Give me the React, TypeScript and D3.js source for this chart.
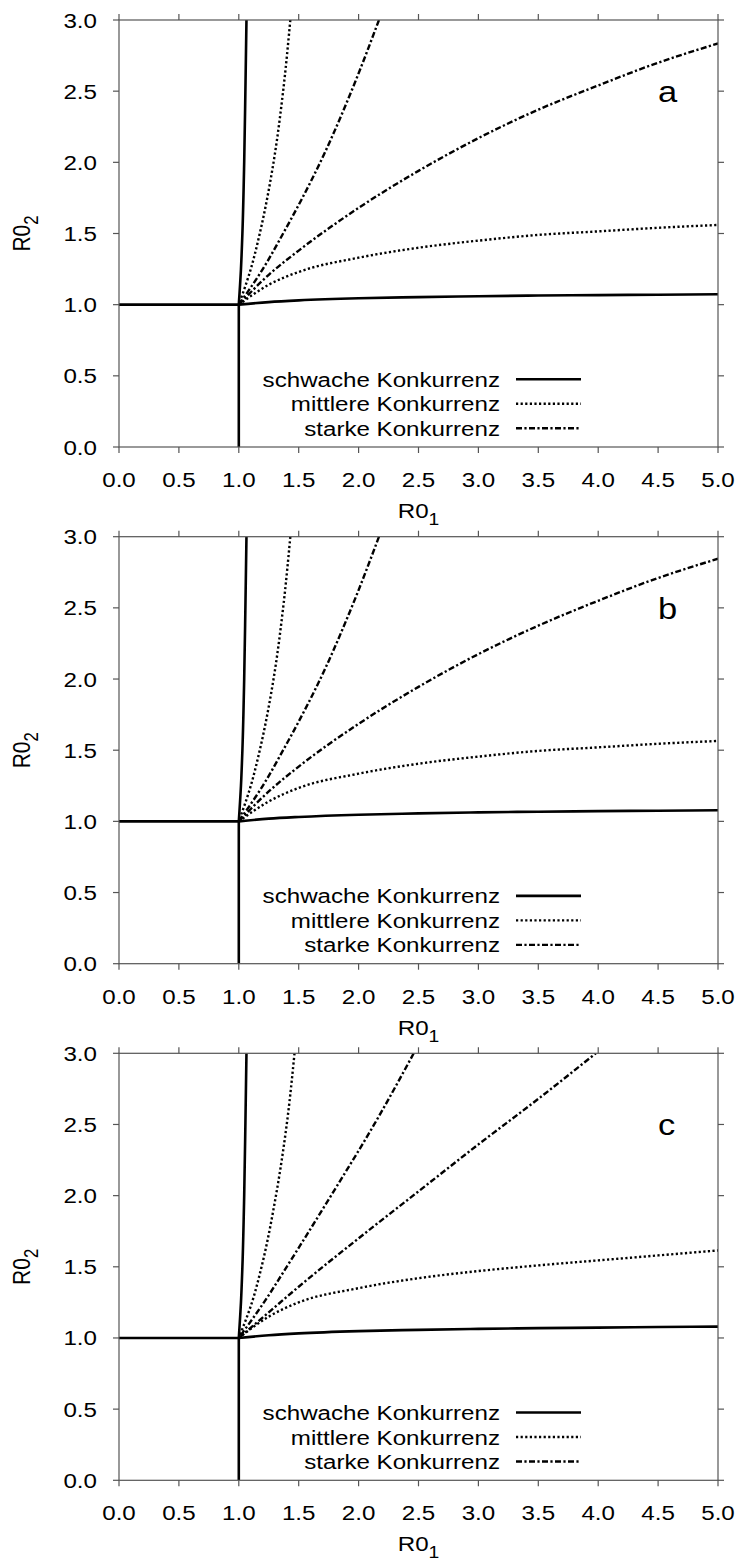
import React from 'react'
import * as d3 from 'd3'

// axis ticks
const xTickValues = [0, 0.5, 1, 1.5, 2, 2.5, 3, 3.5, 4, 4.5, 5]
const yTickValues = [0, 0.5, 1, 1.5, 2, 2.5, 3]
const panelLetters = ['a', 'b', 'c']
const legendLabels = ['schwache Konkurrenz', 'mittlere Konkurrenz', 'starke Konkurrenz']

// lower branches: R0_2 read at these R0_1 values
const lowX = [1, 1.25, 1.5, 2, 2.5, 3, 3.5, 4, 4.5, 5]
// upper branches: R0_1 read at these R0_2 values
const upY = [1, 1.25, 1.5, 2, 2.5, 3]

// panel a
const aSolidLow = [1, 1.018, 1.03, 1.045, 1.053, 1.059, 1.064, 1.067, 1.07, 1.073]
const aDotLow = [1, 1.14, 1.23, 1.33, 1.4, 1.45, 1.49, 1.515, 1.54, 1.56]
const aDashLow = [1, 1.21, 1.38, 1.68, 1.94, 2.17, 2.37, 2.54, 2.7, 2.835]
const aSolidUp = [1, 1.018, 1.03, 1.045, 1.055, 1.064]
const aDotUp = [1, 1.1, 1.175, 1.29, 1.37, 1.43]
const aDashUp = [1, 1.2, 1.37, 1.68, 1.94, 2.17]

// panel b
const bSolidLow = [1, 1.019, 1.031, 1.047, 1.056, 1.063, 1.068, 1.072, 1.075, 1.078]
const bDotLow = [1, 1.14, 1.235, 1.335, 1.405, 1.455, 1.495, 1.52, 1.545, 1.565]
const bDashLow = [1, 1.21, 1.385, 1.685, 1.945, 2.175, 2.375, 2.55, 2.71, 2.845]
const bSolidUp = [1, 1.018, 1.03, 1.045, 1.055, 1.064]
const bDotUp = [1, 1.1, 1.175, 1.29, 1.37, 1.43]
const bDashUp = [1, 1.2, 1.37, 1.68, 1.94, 2.17]

// panel c
const cSolidLow = [1, 1.019, 1.032, 1.048, 1.057, 1.064, 1.069, 1.073, 1.077, 1.08]
const cDotLow = [1, 1.15, 1.25, 1.35, 1.42, 1.47, 1.51, 1.545, 1.58, 1.615]
const cDashLowX = [1, 1.25, 1.5, 2, 2.5, 3, 3.5, 3.98]
const cDashLow = [1, 1.18, 1.36, 1.7, 2.03, 2.36, 2.68, 3.0]
const cSolidUp = [1, 1.018, 1.03, 1.045, 1.055, 1.064]
const cDotUp = [1, 1.11, 1.19, 1.31, 1.4, 1.465]
const cDashUp = [1, 1.21, 1.4, 1.77, 2.13, 2.46]

const styles = [
  { width: 2.6, dash: null },
  { width: 2.4, dash: '2.2,2.4' },
  { width: 2.4, dash: '6,2.4,2.2,2.4' }
]

const panels = [
  {
    low: [[lowX, aSolidLow], [lowX, aDotLow], [lowX, aDashLow]],
    up: [aSolidUp, aDotUp, aDashUp]
  },
  {
    low: [[lowX, bSolidLow], [lowX, bDotLow], [lowX, bDashLow]],
    up: [bSolidUp, bDotUp, bDashUp]
  },
  {
    low: [[lowX, cSolidLow], [lowX, cDotLow], [cDashLowX, cDashLow]],
    up: [cSolidUp, cDotUp, cDashUp]
  }
]

const W = 738,
  H = 1562,
  left = 119,
  right = 718,
  panelTops = [20, 536.7, 1053.3],
  panelH = 427,
  SX = 1.15,
  font = 'Liberation Sans, Arial, Helvetica, sans-serif',
  fs = 21,
  frameColor = '#555'

const fmt = d3.format('.1f')

const Panel = ({ idx }: { idx: number }) => {
  const top = panelTops[idx],
    bottom = top + panelH
  const x = d3.scaleLinear().domain([0, 5]).range([left, right])
  const y = d3.scaleLinear().domain([0, 3]).range([bottom, top])
  const p = panels[idx]

  const lowLine = d3
    .line<number[]>()
    .x(d => x(d[0]))
    .y(d => y(d[1]))
    .curve(d3.curveMonotoneX)
  const upLine = d3
    .line<number[]>()
    .x(d => x(d[0]))
    .y(d => y(d[1]))
    .curve(d3.curveMonotoneY)

  const clipId = `clip${idx}`
  const cy = (top + bottom) / 2

  return (
    <g>
      <defs>
        <clipPath id={clipId}>
          <rect x={left} y={top} width={right - left} height={panelH} />
        </clipPath>
      </defs>

      <g clipPath={`url(#${clipId})`} fill='none' stroke='#000'>
        {/* boundaries along R0_1 = 1 and R0_2 = 1 */}
        <line x1={x(1)} x2={x(1)} y1={y(0)} y2={y(1)} strokeWidth={styles[0].width} />
        <line x1={x(0)} x2={x(1)} y1={y(1)} y2={y(1)} strokeWidth={styles[0].width} />
        {p.low.map(([xs, ys], i) => (
          <path
            key={'l' + i}
            d={lowLine(xs.map((v, k) => [v, ys[k]])) || ''}
            strokeWidth={styles[i].width}
            strokeDasharray={styles[i].dash || undefined}
          />
        ))}
        {p.up.map((xs, i) => (
          <path
            key={'u' + i}
            d={upLine(xs.map((v, k) => [v, upY[k]]).reverse()) || ''}
            strokeWidth={styles[i].width}
            strokeDasharray={styles[i].dash || undefined}
          />
        ))}
      </g>

      {/* frame and ticks */}
      <rect
        x={left}
        y={top}
        width={right - left}
        height={panelH}
        fill='none'
        stroke={frameColor}
        strokeWidth={1.2}
      />
      {xTickValues.map(t => (
        <g key={'xt' + t} stroke={frameColor} strokeWidth={1.2}>
          <line x1={x(t)} x2={x(t)} y1={bottom} y2={bottom + 6} />
          <line x1={x(t)} x2={x(t)} y1={top} y2={top - 6} />
        </g>
      ))}
      {yTickValues.map(t => (
        <g key={'yt' + t} stroke={frameColor} strokeWidth={1.2}>
          <line x1={left - 6} x2={left} y1={y(t)} y2={y(t)} />
          <line x1={right} x2={right + 6} y1={y(t)} y2={y(t)} />
        </g>
      ))}

      {xTickValues.map(t => (
        <text
          key={'xl' + t}
          transform={`translate(${x(t)},${bottom + 40}) scale(${SX},1)`}
          textAnchor='middle'
          fontSize={fs}>
          {fmt(t)}
        </text>
      ))}
      {yTickValues.map(t => (
        <text
          key={'yl' + t}
          transform={`translate(${left - 22},${y(t) + 7.5}) scale(${SX},1)`}
          textAnchor='end'
          fontSize={fs}>
          {fmt(t)}
        </text>
      ))}

      <text
        transform={`translate(${(left + right) / 2},${bottom + 71}) scale(${SX},1)`}
        textAnchor='middle'
        fontSize={fs}>
        R0
        <tspan fontSize={fs * 0.8} dy={7}>
          1
        </tspan>
      </text>
      <text
        transform={`translate(30,${cy}) scale(${SX},1) rotate(-90)`}
        textAnchor='middle'
        fontSize={fs}>
        R0
        <tspan fontSize={fs * 0.8} dy={7}>
          2
        </tspan>
      </text>

      <text
        transform={`translate(658,${top + 82}) scale(${SX},1)`}
        fontSize={30}>
        {panelLetters[idx]}
      </text>

      {legendLabels.map((l, i) => {
        const by = bottom - 60.3 + i * 24.5
        return (
          <g key={l}>
            <text
              transform={`translate(500,${by}) scale(${SX},1)`}
              textAnchor='end'
              fontSize={fs}>
              {l}
            </text>
            <line
              x1={516}
              x2={581}
              y1={by - 7.5}
              y2={by - 7.5}
              stroke='#000'
              strokeWidth={styles[i].width}
              strokeDasharray={styles[i].dash || undefined}
            />
          </g>
        )
      })}
    </g>
  )
}

export default function App() {
  return (
    <svg
      width={W}
      height={H}
      style={{ position: 'absolute', left: 0, top: 0, background: '#fff' }}
      fontFamily={font}>
      <rect width={W} height={H} fill='#fff' />
      {panelLetters.map((_, i) => (
        <Panel key={i} idx={i} />
      ))}
    </svg>
  )
}
